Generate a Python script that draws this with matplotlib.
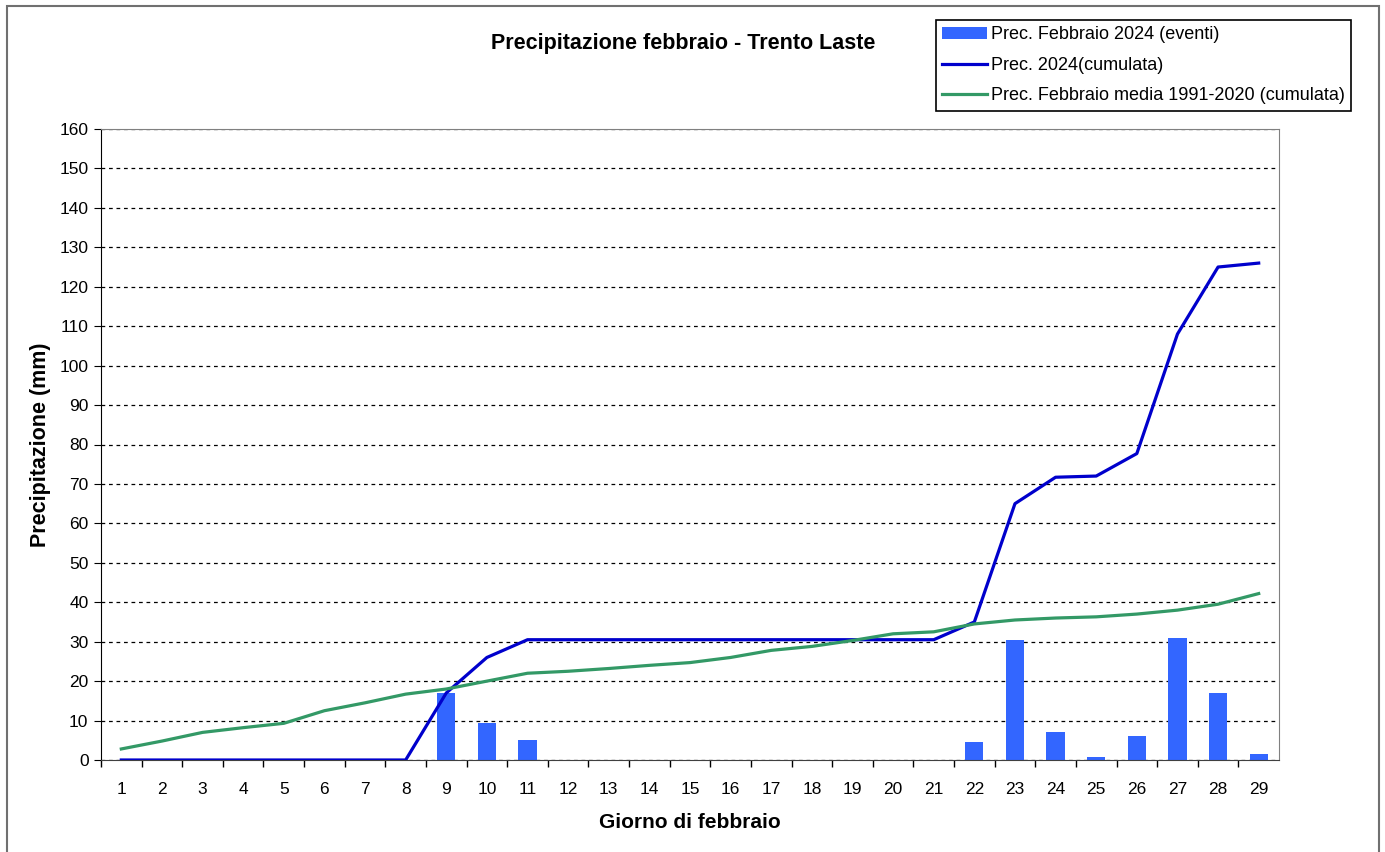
import matplotlib.pyplot as plt
from matplotlib.patches import Rectangle

plt.rcParams['font.family'] = ['Liberation Sans', 'DejaVu Sans']

# Dati
giorni = list(range(1, 30))
eventi_2024 = [0, 0, 0, 0, 0, 0, 0, 0, 17, 9.5, 5, 0, 0, 0, 0, 0, 0, 0, 0, 0, 0,
               4.5, 30.5, 7, 0.7, 6, 31, 17, 1.5]
cumulata_2024 = [0, 0, 0, 0, 0, 0, 0, 0, 17, 26, 30.5, 30.5, 30.5, 30.5, 30.5,
                 30.5, 30.5, 30.5, 30.5, 30.5, 30.5, 35, 65, 71.7, 72, 77.7,
                 108, 125, 126]
media_1991_2020 = [2.8, 4.8, 7, 8.2, 9.3, 12.5, 14.5, 16.7, 18, 20, 22, 22.5,
                   23.2, 24, 24.7, 26, 27.8, 28.8, 30.3, 32, 32.5, 34.5, 35.5,
                   36, 36.3, 37, 38, 39.5, 42.2]

fig = plt.figure(figsize=(13.85, 8.52), dpi=100)
ax = fig.add_axes([101 / 1385, 1 - 760 / 852, 1178 / 1385, 631 / 852])

# cornice della figura
fig.patches.append(Rectangle((7 / 1385, -0.05), 1372 / 1385, 1.05 - 6 / 852,
                             transform=fig.transFigure, fill=False,
                             edgecolor='#707070', linewidth=1.5))

barre = ax.bar(giorni, eventi_2024, width=0.45, color='#3366FF',
               label='Prec. Febbraio 2024 (eventi)', zorder=2)
l1, = ax.plot(giorni, cumulata_2024, color='#0000CC', linewidth=2.3,
              label='Prec. 2024(cumulata)', zorder=3)
l2, = ax.plot(giorni, media_1991_2020, color='#339966', linewidth=2.3,
              label='Prec. Febbraio media 1991-2020 (cumulata)', zorder=3)

ax.set_xlim(0.5, 29.5)
ax.set_ylim(0, 160)
ax.set_yticks(range(0, 161, 10))
ax.set_xticks(giorni)
ax.set_xticks([g + 0.5 for g in range(0, 29)], minor=True)
ax.tick_params(axis='x', which='major', length=0, pad=16, labelsize=12.5)
ax.tick_params(axis='x', which='minor', length=5, direction='out', width=1)
ax.tick_params(axis='y', length=5, labelsize=12.5, pad=4)
ax.yaxis.grid(True, linestyle=(0, (3, 3)), color='black', linewidth=0.9)
ax.set_axisbelow(True)

for s in ['top', 'right']:
    ax.spines[s].set_color('#808080')
ax.spines['left'].set_color('black')
ax.spines['bottom'].set_color('#404040')

ax.set_xlabel('Giorno di febbraio', fontsize=15, fontweight='bold', labelpad=11)
ax.set_ylabel('Precipitazione (mm)', fontsize=15.5, fontweight='bold', labelpad=6)

fig.text(683 / 1385, 1 - 43 / 852, 'Precipitazione febbraio - Trento Laste',
         fontsize=15.5, fontweight='bold', ha='center', va='center')

leg = fig.legend([barre, l1, l2],
                 [barre.get_label(), l1.get_label(), l2.get_label()],
                 loc='upper left', bbox_to_anchor=(936 / 1385, 1 - 20 / 852),
                 fontsize=13, fancybox=False, edgecolor='black',
                 framealpha=1, borderpad=0.35, labelspacing=0.75,
                 handlelength=2.5, handletextpad=0.2, borderaxespad=0)
leg.get_frame().set_linewidth(1.2)

fig.savefig('out.png', dpi=100)
